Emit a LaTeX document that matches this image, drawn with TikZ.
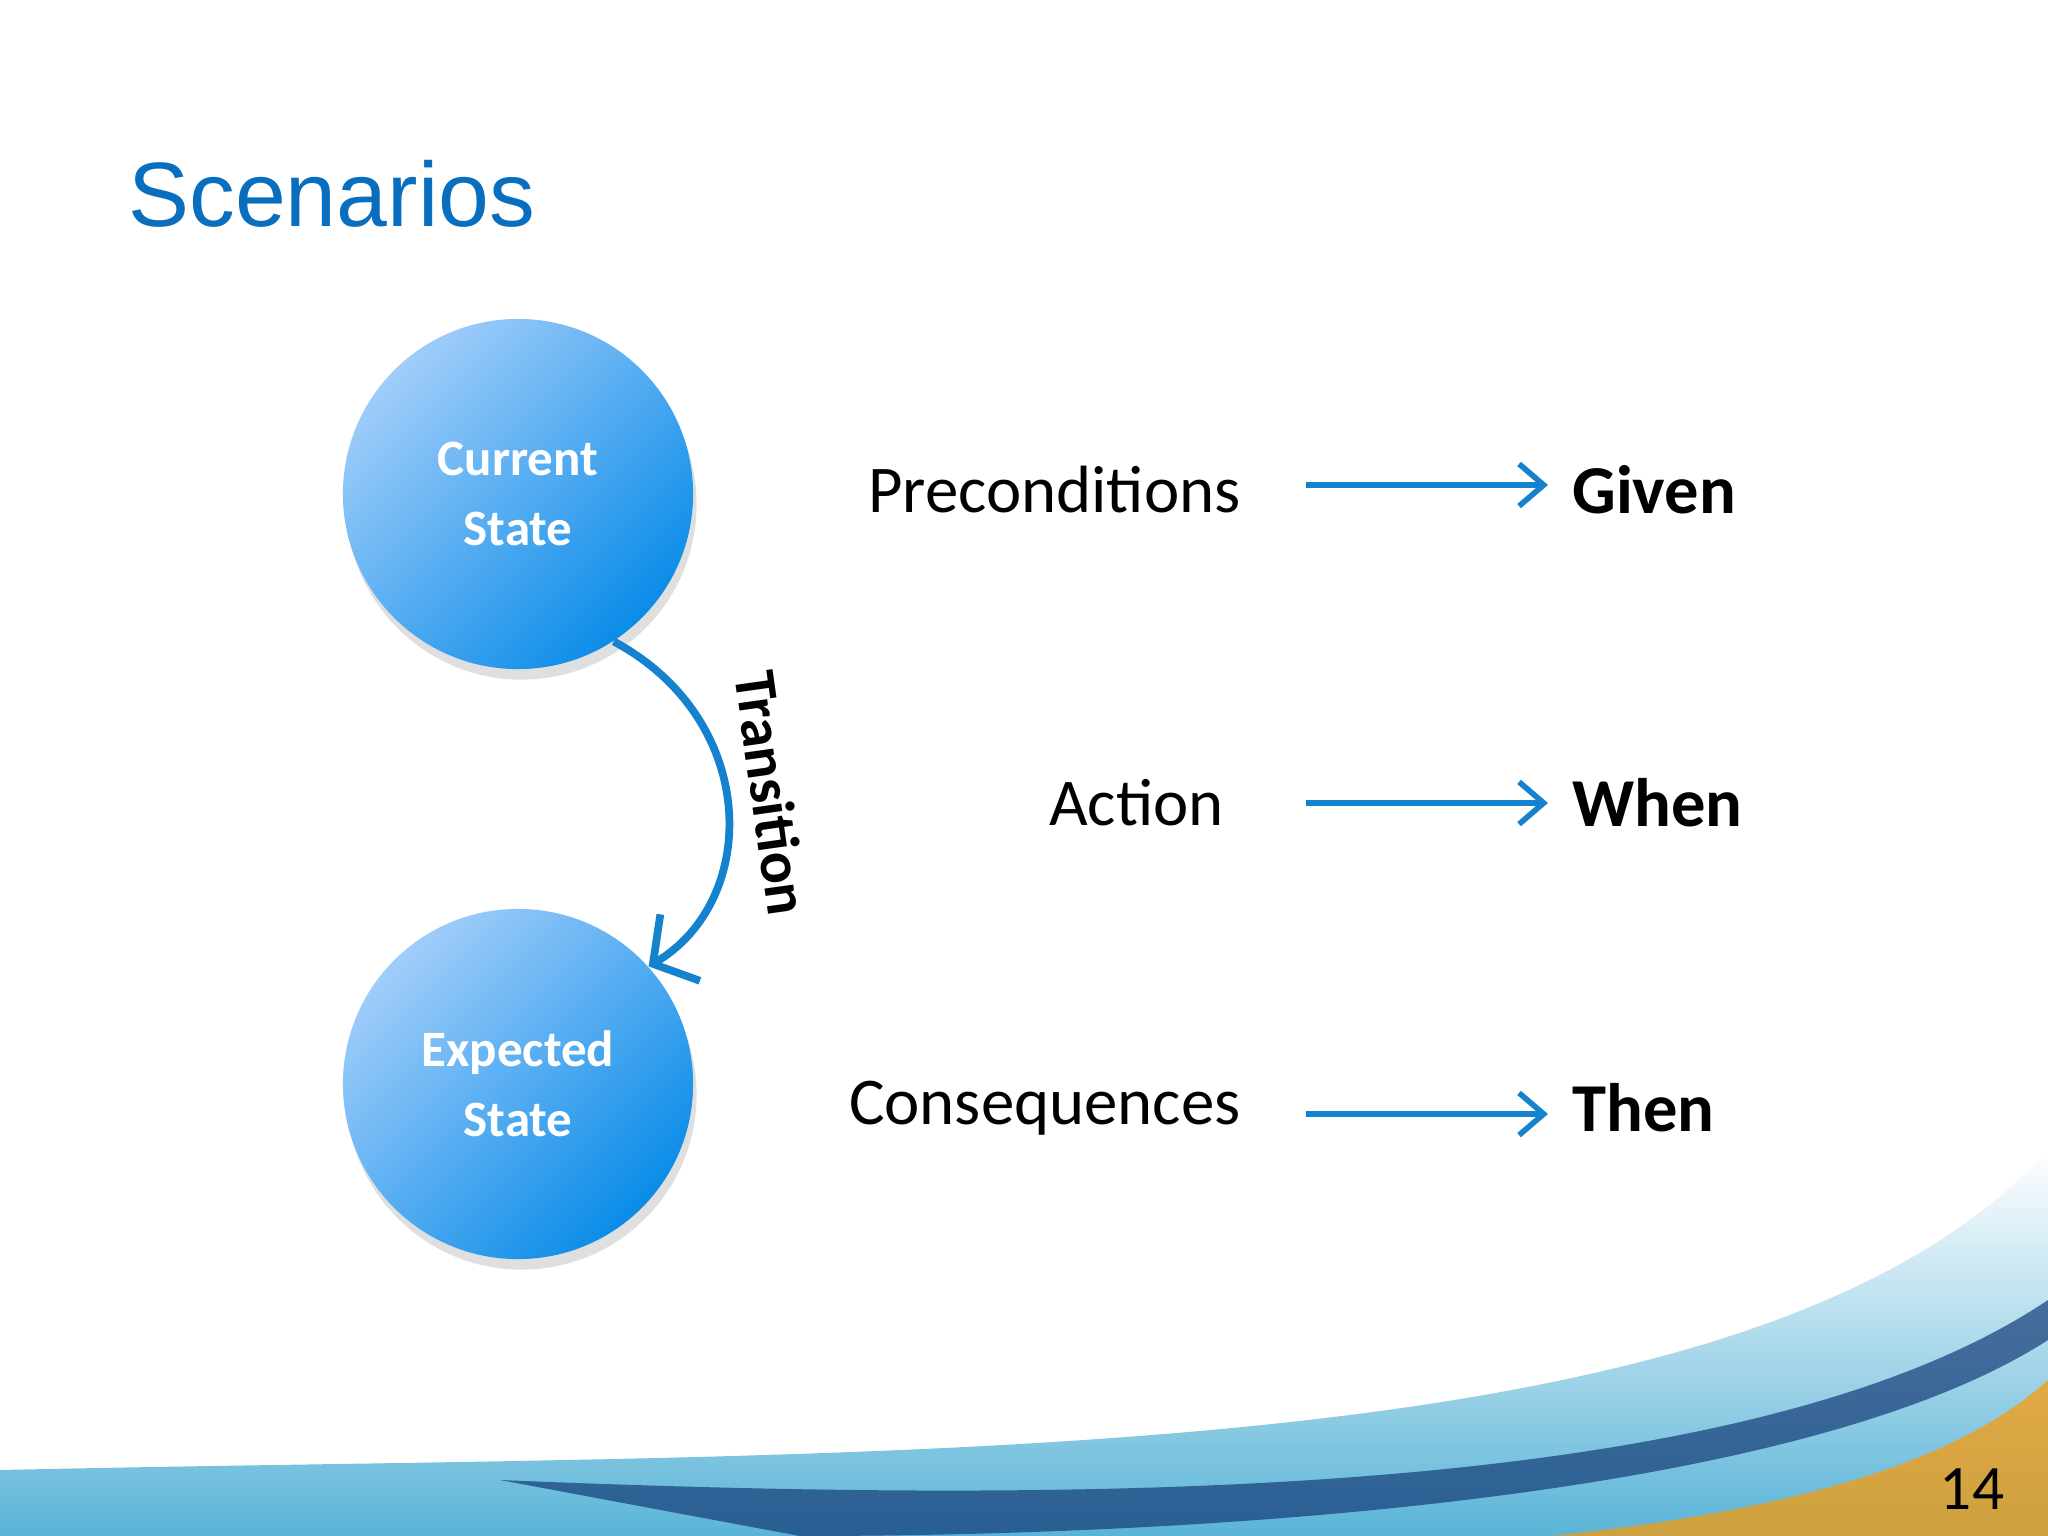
\documentclass[tikz,border=0pt]{standalone}
\usepackage{fontspec}
\setmainfont{Carlito}
\newfontfamily\titlefont{Liberation Sans}
\usetikzlibrary{arrows.meta,shadows}
\definecolor{cblue}{RGB}{20,130,205}
\definecolor{ctop}{RGB}{160,205,250}
\definecolor{cbot}{RGB}{10,140,232}
\definecolor{ctitle}{RGB}{10,110,190}
\definecolor{cwave}{RGB}{90,180,215}
\definecolor{cdark}{RGB}{20,60,120}
\begin{document}
\begin{tikzpicture}[x=0.01cm,y=-0.01cm,
  state/.style={circle,minimum size=3.5cm,inner sep=0,
    shading=axis,top color=ctop,bottom color=cbot,shading angle=45,
    drop shadow={shadow xshift=1pt,shadow yshift=-3pt,opacity=0.25},
    text=white,font=\bfseries\fontsize{14.5}{20}\selectfont,align=center},
  lbl/.style={anchor=east,font=\fontsize{19}{23}\selectfont},
  kw/.style={anchor=west,font=\bfseries\fontsize{19.5}{23}\selectfont},
  arr/.style={draw=cblue,line width=1.6pt,-{Straight Barb[length=7pt,width=12pt]}}]
\useasboundingbox (0,0) rectangle (2048,1536);
% bottom wave
\shade[top color=white,bottom color=cwave]
  (0,1470) .. controls (900,1450) and (1750,1480) .. (2048,1150) -- (2048,1536) -- (0,1536) -- cycle;
\fill[cdark,opacity=0.7]
  (500,1480) .. controls (1100,1505) and (1750,1500) .. (2048,1300) -- (2048,1340) .. controls (1800,1500) and (1200,1536) .. (800,1536) -- cycle;
\fill[orange!80!yellow,opacity=0.7]
  (1550,1536) .. controls (1800,1510) and (1960,1460) .. (2048,1380) -- (2048,1536) -- cycle;
\node[anchor=west,text=ctitle,font=\titlefont\fontsize{26}{30}\selectfont] (title) at (116,194) {Scenarios};
\node[state] (cur) at (518,494) {Current\\State};
\node[state] (exp) at (518,1084) {Expected\\State};
\draw[draw=cblue,line width=2.2pt,-{Straight Barb[length=9pt,width=22pt]}]
  (cur.-57) .. controls (760,720) and (760,900) .. (exp.42);
\node[rotate=-82,font=\bfseries\fontsize{17}{20}\selectfont] (tr) at (772,793) {Transition};
\node[lbl] (pre) at (1253,490) {Preconditions};
\node[lbl] (act) at (1236,803) {Action};
\node[lbl] (con) at (1253,1108) {Consequences};
\node[kw] (giv) at (1560,490) {Given};
\node[kw] (whe) at (1560,803) {When};
\node[kw] (the) at (1560,1108) {Then};
\coordinate (g0) at (1306,485); \coordinate (g1) at (1548,485);
\coordinate (w0) at (1306,803); \coordinate (w1) at (1548,803);
\coordinate (t0) at (1306,1114); \coordinate (t1) at (1548,1114);
\draw[arr] (g0) -- (g1);
\draw[arr] (w0) -- (w1);
\draw[arr] (t0) -- (t1);
\node[font=\fontsize{18}{22}\selectfont] (pg) at (1972,1489) {14};
\end{tikzpicture}
\end{document}
